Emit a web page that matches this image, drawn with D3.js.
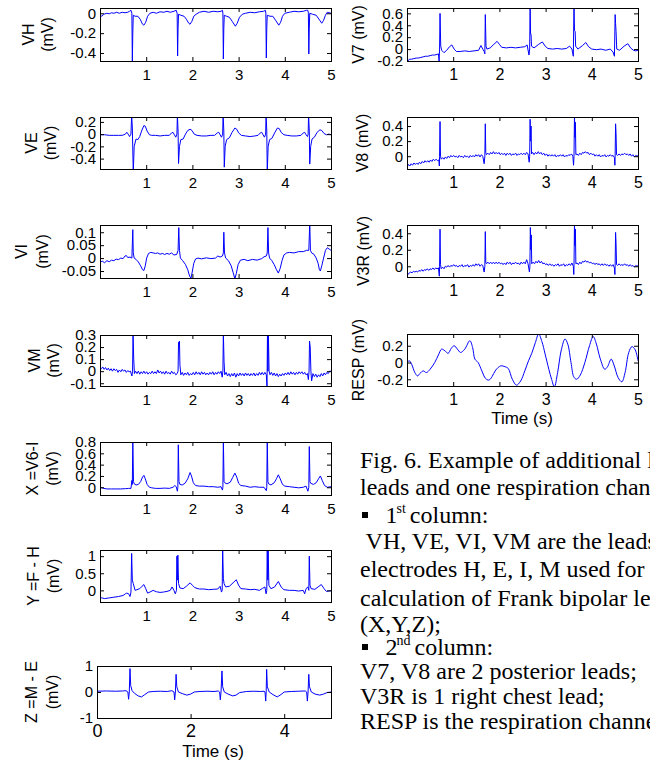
<!DOCTYPE html>
<html>
<head>
<meta charset="utf-8">
<script src="https://cdn.jsdelivr.net/npm/d3@7"></script>
<style>
body { margin: 0; background: #fff; }
svg { display: block; }
.tick text { font-family: Arial, "Liberation Sans", sans-serif; fill: #000; }
.ylab, .xlab { font-family: Arial, "Liberation Sans", sans-serif; fill: #000; }
.caption { font-family: "Times New Roman", "Liberation Serif", serif; fill: #000; }
</style>
</head>
<body>
<svg id="fig" width="650" height="764"></svg>
<script>
// ---- traces: [time (s), mV] ----
var VH = [[0,-0.02],[0.04,-0.03],[0.08,-0.01],[0.15,0],[0.2,-0.005],[0.25,0.005],[0.3,0],[0.36,0.01],[0.42,0],[0.48,0.01],[0.54,0.005],[0.6,0.01],[0.64,0.02],[0.67,0.03],[0.69,0],[0.7,-0.5],[0.71,-0.2],[0.72,-0.02],[0.76,-0.03],[0.82,-0.03],[0.87,-0.06],[0.92,-0.11],[0.95,-0.12],[0.99,-0.09],[1.03,-0.03],[1.08,0],[1.15,0.01],[1.22,0],[1.3,0.015],[1.38,0.01],[1.45,0.02],[1.52,0.01],[1.6,0.02],[1.65,0.03],[1.67,0],[1.68,-0.43],[1.69,-0.15],[1.7,-0.01],[1.75,-0.02],[1.82,-0.03],[1.87,-0.06],[1.92,-0.1],[1.95,-0.11],[1.99,-0.08],[2.03,-0.03],[2.08,-0.01],[2.15,0.01],[2.25,0.02],[2.35,0.01],[2.45,0.02],[2.55,0.015],[2.62,0.02],[2.65,0.03],[2.66,0],[2.67,-0.46],[2.68,-0.15],[2.69,-0.02],[2.74,-0.03],[2.8,-0.04],[2.86,-0.08],[2.93,-0.13],[2.97,-0.1],[3.02,-0.04],[3.08,-0.01],[3.15,0],[3.25,0.01],[3.35,0.005],[3.45,0.015],[3.54,0.02],[3.58,0.03],[3.59,0],[3.6,-0.45],[3.61,-0.15],[3.62,-0.02],[3.68,-0.03],[3.74,-0.03],[3.8,-0.07],[3.87,-0.12],[3.91,-0.09],[3.95,-0.03],[4,0],[4.1,0.01],[4.2,0.02],[4.3,0.015],[4.4,0.02],[4.47,0.03],[4.5,0.03],[4.51,0],[4.52,-0.41],[4.53,-0.15],[4.54,0],[4.6,-0.01],[4.68,-0.02],[4.74,-0.06],[4.8,-0.1],[4.84,-0.07],[4.88,-0.02],[4.92,0.01],[5,0]];

var VE = [[0,-0.01],[0.1,-0.01],[0.2,-0.02],[0.3,-0.02],[0.4,-0.02],[0.48,-0.02],[0.55,0],[0.58,0.03],[0.61,0],[0.64,-0.04],[0.67,0],[0.685,0.32],[0.7,0.1],[0.72,-0.62],[0.74,-0.2],[0.78,-0.08],[0.82,-0.09],[0.86,-0.04],[0.9,0.05],[0.95,0.14],[0.98,0.13],[1.02,0.05],[1.07,-0.01],[1.12,-0.02],[1.2,-0.02],[1.3,-0.03],[1.4,-0.02],[1.5,-0.02],[1.55,0.02],[1.58,0.03],[1.61,-0.01],[1.64,-0.05],[1.665,0],[1.675,0.32],[1.69,0.05],[1.7,-0.48],[1.72,-0.2],[1.75,-0.09],[1.8,-0.08],[1.85,0],[1.9,0.06],[1.95,0.08],[1.99,0.06],[2.04,0],[2.1,-0.02],[2.2,-0.03],[2.3,-0.03],[2.4,-0.02],[2.48,-0.02],[2.54,0.02],[2.57,0.03],[2.6,-0.01],[2.63,-0.05],[2.655,0],[2.665,0.32],[2.68,0.05],[2.69,-0.54],[2.71,-0.2],[2.74,-0.09],[2.8,-0.06],[2.86,0.03],[2.92,0.1],[2.96,0.08],[3,0.02],[3.06,-0.02],[3.15,-0.03],[3.25,-0.04],[3.35,-0.03],[3.42,-0.02],[3.47,0.02],[3.5,0.03],[3.53,-0.01],[3.56,-0.05],[3.585,0],[3.595,0.32],[3.61,0.05],[3.62,-0.62],[3.64,-0.2],[3.67,-0.09],[3.72,-0.07],[3.78,0.02],[3.84,0.1],[3.88,0.09],[3.92,0.03],[3.98,-0.01],[4.05,-0.02],[4.15,-0.03],[4.25,-0.03],[4.35,-0.02],[4.4,0.02],[4.43,0.03],[4.46,-0.01],[4.49,-0.04],[4.505,0],[4.515,0.32],[4.53,0.05],[4.54,-0.49],[4.56,-0.2],[4.59,-0.08],[4.64,-0.05],[4.7,0.03],[4.76,0.07],[4.8,0.06],[4.85,0.01],[4.9,-0.01],[4.95,0],[5,-0.01]];

var VI = [[0,-0.015],[0.05,-0.012],[0.1,-0.018],[0.15,-0.01],[0.2,-0.014],[0.25,-0.008],[0.3,-0.01],[0.35,-0.004],[0.4,-0.006],[0.45,0],[0.5,-0.002],[0.54,0.008],[0.57,0.01],[0.6,0.002],[0.65,0.004],[0.69,0],[0.71,0.11],[0.72,0.02],[0.74,0],[0.78,-0.005],[0.83,-0.015],[0.88,-0.03],[0.92,-0.045],[0.95,-0.048],[0.98,-0.03],[1.01,0],[1.05,0.018],[1.1,0.022],[1.15,0.02],[1.2,0.018],[1.25,0.02],[1.3,0.015],[1.35,0.018],[1.4,0.014],[1.45,0.018],[1.5,0.015],[1.55,0.02],[1.6,0.012],[1.66,0.014],[1.69,0.03],[1.705,0.118],[1.72,0.03],[1.74,0],[1.79,-0.01],[1.85,-0.025],[1.9,-0.045],[1.94,-0.07],[1.97,-0.078],[2,-0.05],[2.03,-0.02],[2.07,-0.003],[2.12,0],[2.2,-0.003],[2.3,0.001],[2.4,-0.002],[2.5,0],[2.55,0.008],[2.6,0.004],[2.65,0.008],[2.67,0.02],[2.68,0.1],[2.695,0.02],[2.72,0],[2.78,-0.01],[2.84,-0.03],[2.88,-0.055],[2.92,-0.08],[2.95,-0.06],[2.99,-0.025],[3.04,-0.008],[3.12,-0.005],[3.2,-0.01],[3.3,-0.005],[3.4,-0.008],[3.5,-0.002],[3.55,0.005],[3.6,0.008],[3.62,0.02],[3.635,0.118],[3.65,0.02],[3.67,0],[3.72,-0.01],[3.77,-0.025],[3.82,-0.045],[3.86,-0.058],[3.9,-0.04],[3.94,-0.01],[3.98,0.012],[4.04,0.02],[4.1,0.022],[4.2,0.02],[4.3,0.025],[4.4,0.025],[4.47,0.03],[4.52,0.03],[4.54,0.135],[4.555,0.03],[4.58,0.02],[4.63,0.015],[4.68,0],[4.72,-0.02],[4.75,-0.045],[4.77,-0.05],[4.8,-0.03],[4.84,0],[4.88,0.03],[4.92,0.04],[4.96,0.035],[5,0.03]];

var VM = [[0,0.03],[0.03,0.02],[0.06,0.035],[0.09,0.015],[0.12,0.03],[0.15,0.01],[0.18,0.025],[0.21,0.005],[0.24,0.02],[0.27,0],[0.3,0.02],[0.33,0.005],[0.36,0.015],[0.39,-0.01],[0.42,0.01],[0.45,-0.005],[0.48,0.015],[0.51,0],[0.54,0.01],[0.57,-0.01],[0.6,0.005],[0.63,-0.005],[0.66,0],[0.69,-0.04],[0.705,0],[0.715,0.32],[0.73,0.1],[0.745,-0.02],[0.77,0],[0.8,-0.02],[0.83,0],[0.86,-0.025],[0.89,-0.005],[0.92,-0.02],[0.95,0],[0.98,-0.02],[1.01,-0.005],[1.04,-0.025],[1.07,-0.01],[1.1,-0.02],[1.13,0],[1.16,-0.02],[1.19,-0.005],[1.22,-0.02],[1.25,0.01],[1.28,-0.015],[1.31,0],[1.34,-0.02],[1.37,-0.005],[1.4,-0.025],[1.43,0],[1.46,-0.02],[1.49,-0.01],[1.52,-0.025],[1.55,0],[1.58,-0.02],[1.61,-0.01],[1.64,-0.03],[1.67,-0.02],[1.69,0],[1.7,0.24],[1.71,0.22],[1.72,0.25],[1.73,0.05],[1.75,-0.03],[1.78,-0.01],[1.81,-0.035],[1.84,-0.015],[1.87,-0.03],[1.9,-0.01],[1.93,-0.035],[1.96,-0.02],[1.99,-0.03],[2.02,-0.01],[2.05,-0.03],[2.08,-0.005],[2.11,-0.025],[2.14,-0.01],[2.17,-0.03],[2.2,-0.005],[2.23,-0.025],[2.26,-0.01],[2.29,-0.03],[2.32,-0.015],[2.35,-0.03],[2.38,-0.01],[2.41,-0.025],[2.44,-0.005],[2.47,-0.03],[2.5,-0.01],[2.53,-0.025],[2.56,-0.005],[2.59,-0.02],[2.62,0],[2.645,-0.05],[2.66,0],[2.67,0.32],[2.685,0.08],[2.7,-0.03],[2.73,-0.01],[2.76,-0.04],[2.79,-0.02],[2.82,-0.045],[2.85,-0.02],[2.88,-0.04],[2.91,-0.015],[2.94,-0.05],[2.97,-0.02],[3,-0.04],[3.03,-0.015],[3.06,-0.035],[3.09,-0.02],[3.12,-0.04],[3.15,-0.015],[3.18,-0.035],[3.21,-0.02],[3.24,-0.04],[3.27,-0.02],[3.3,-0.035],[3.33,-0.015],[3.36,-0.04],[3.39,-0.02],[3.42,-0.035],[3.45,-0.01],[3.48,-0.03],[3.51,-0.01],[3.54,-0.03],[3.57,-0.01],[3.6,-0.03],[3.615,-0.13],[3.625,0.32],[3.635,0],[3.645,0.3],[3.66,0],[3.68,-0.03],[3.71,-0.01],[3.74,-0.035],[3.77,-0.015],[3.8,-0.04],[3.83,-0.02],[3.86,-0.045],[3.89,-0.025],[3.92,-0.04],[3.95,-0.02],[3.98,-0.035],[4.01,-0.015],[4.04,-0.03],[4.07,-0.01],[4.1,-0.03],[4.13,-0.005],[4.16,-0.025],[4.19,-0.01],[4.22,-0.03],[4.25,-0.01],[4.28,-0.025],[4.31,-0.005],[4.34,-0.02],[4.37,-0.005],[4.4,-0.025],[4.43,-0.01],[4.46,-0.03],[4.49,-0.02],[4.51,-0.07],[4.525,0],[4.535,0.25],[4.55,0.2],[4.565,0],[4.58,-0.08],[4.61,-0.02],[4.64,-0.045],[4.67,-0.025],[4.7,-0.05],[4.73,-0.03],[4.76,-0.045],[4.79,-0.02],[4.82,-0.04],[4.85,-0.015],[4.88,-0.03],[4.91,-0.01],[4.94,-0.02],[4.97,0],[5,0]];

var XL = [[0,0],[0.04,-0.01],[0.08,-0.02],[0.15,-0.03],[0.25,-0.03],[0.35,-0.03],[0.45,-0.03],[0.55,-0.025],[0.62,-0.02],[0.67,-0.02],[0.69,0.12],[0.7,0.05],[0.71,0.85],[0.725,0.1],[0.74,0.06],[0.78,0.04],[0.83,0.05],[0.88,0.1],[0.92,0.18],[0.95,0.21],[0.98,0.15],[1.02,0.05],[1.07,0],[1.12,-0.01],[1.2,-0.02],[1.3,-0.02],[1.4,-0.015],[1.5,-0.02],[1.58,0],[1.62,0.03],[1.65,0.01],[1.675,-0.07],[1.685,0],[1.695,0.75],[1.71,0.1],[1.73,0.05],[1.78,0.04],[1.84,0.07],[1.9,0.15],[1.95,0.26],[1.98,0.2],[2.02,0.08],[2.07,0.03],[2.15,0.02],[2.25,0.02],[2.35,0.01],[2.45,0.01],[2.55,0],[2.62,0.01],[2.65,-0.05],[2.66,0],[2.67,0.85],[2.685,0.1],[2.7,0.08],[2.75,0.06],[2.82,0.09],[2.87,0.17],[2.92,0.25],[2.96,0.18],[3,0.07],[3.05,0.03],[3.15,0.02],[3.25,0],[3.35,0.01],[3.45,0],[3.55,0],[3.6,-0.06],[3.61,0],[3.62,0.85],[3.635,0.1],[3.65,0.06],[3.7,0.04],[3.77,0.08],[3.82,0.15],[3.86,0.22],[3.9,0.15],[3.95,0.05],[4,0.02],[4.1,0.01],[4.2,0],[4.3,-0.01],[4.4,0],[4.46,0.02],[4.5,-0.07],[4.52,0],[4.53,0.72],[4.545,0.1],[4.56,0.07],[4.62,0.05],[4.68,0.08],[4.73,0.15],[4.77,0.2],[4.81,0.12],[4.86,0.03],[4.92,0],[5,0.01]];

var YL = [[0,-0.2],[0.04,-0.22],[0.1,-0.24],[0.2,-0.22],[0.3,-0.2],[0.4,-0.18],[0.5,-0.15],[0.55,-0.1],[0.58,-0.08],[0.62,-0.1],[0.65,-0.18],[0.67,-0.05],[0.685,1.08],[0.7,0.3],[0.72,0.2],[0.76,0],[0.8,0.02],[0.86,0.05],[0.91,0.12],[0.95,0.17],[0.99,0.05],[1.03,-0.08],[1.08,-0.05],[1.15,0],[1.22,-0.04],[1.3,-0.06],[1.37,-0.05],[1.45,-0.03],[1.52,0],[1.56,0.1],[1.6,0],[1.63,-0.1],[1.655,0],[1.665,1],[1.675,0.3],[1.685,1.03],[1.7,0.2],[1.73,0.07],[1.8,0.05],[1.87,0.12],[1.95,0.22],[2,0.15],[2.05,0.08],[2.15,0.04],[2.25,0.04],[2.35,0.02],[2.45,0.03],[2.55,0.04],[2.6,0.12],[2.63,-0.05],[2.645,0],[2.655,1.25],[2.67,0.35],[2.685,0.2],[2.72,0.1],[2.8,0.12],[2.88,0.22],[2.95,0.31],[3,0.15],[3.05,0.05],[3.15,0.04],[3.25,0.02],[3.35,0.03],[3.45,0],[3.52,0.06],[3.57,0.1],[3.595,-0.1],[3.61,0],[3.62,1.25],[3.63,0.3],[3.64,1.2],[3.655,0.15],[3.7,0.05],[3.78,0.1],[3.86,0.26],[3.92,0.1],[3.98,0.02],[4.1,0],[4.2,0],[4.3,-0.02],[4.4,0],[4.43,-0.1],[4.46,0.05],[4.5,0.1],[4.52,0],[4.53,1],[4.545,0.15],[4.57,0.05],[4.65,0.03],[4.72,0.1],[4.79,0.17],[4.85,0.05],[4.9,-0.03],[4.95,-0.02],[5,-0.01]];

var ZL = [[0,0.03],[0.2,0.04],[0.4,0.03],[0.55,0.04],[0.62,0.05],[0.66,0],[0.675,-0.28],[0.69,0],[0.705,0.9],[0.72,0.25],[0.75,0.05],[0.8,-0.05],[0.88,-0.15],[0.95,-0.19],[1.02,-0.1],[1.1,0],[1.2,0.02],[1.35,0.03],[1.5,0.02],[1.6,0.05],[1.645,0],[1.66,-0.3],[1.675,0],[1.69,0.68],[1.705,0.2],[1.74,0],[1.82,-0.06],[1.92,-0.12],[2,-0.08],[2.08,0],[2.2,0.02],[2.35,0.03],[2.5,0.02],[2.59,0.04],[2.62,0],[2.635,-0.3],[2.65,0],[2.67,0.81],[2.685,0.2],[2.72,0],[2.8,-0.08],[2.9,-0.15],[2.97,-0.12],[3.05,-0.02],[3.2,0.02],[3.35,0.03],[3.5,0.02],[3.57,0.03],[3.59,0],[3.605,-0.35],[3.615,0],[3.625,0.87],[3.64,0.2],[3.68,0],[3.76,-0.1],[3.85,-0.19],[3.93,-0.1],[4,0],[4.15,0.02],[4.3,0.03],[4.45,0.04],[4.48,0],[4.495,-0.35],[4.51,0],[4.525,0.68],[4.54,0.2],[4.58,0],[4.66,-0.08],[4.76,-0.12],[4.84,-0.08],[4.92,-0.02],[5,0]];

var V7 = [[0,-0.25],[0.02,-0.2],[0.05,-0.17],[0.1,-0.17],[0.15,-0.16],[0.2,-0.15],[0.25,-0.15],[0.3,-0.14],[0.35,-0.13],[0.4,-0.12],[0.45,-0.12],[0.5,-0.11],[0.55,-0.1],[0.6,-0.1],[0.65,-0.09],[0.68,-0.08],[0.695,-0.2],[0.705,0],[0.715,0.6],[0.73,0.05],[0.75,-0.02],[0.8,-0.06],[0.86,-0.02],[0.92,0.04],[0.97,0.07],[1.02,0],[1.07,-0.04],[1.15,-0.04],[1.25,-0.03],[1.35,-0.04],[1.45,-0.03],[1.55,-0.02],[1.6,0.06],[1.64,0],[1.67,-0.04],[1.685,-0.08],[1.695,0.58],[1.71,0.05],[1.73,0],[1.8,0.02],[1.88,0.08],[1.95,0.13],[2,0.08],[2.05,0.03],[2.15,0.02],[2.25,0.03],[2.35,0.02],[2.45,0.03],[2.55,0.04],[2.6,0.07],[2.64,-0.1],[2.655,0],[2.665,0.75],[2.675,0.25],[2.685,0.25],[2.695,0.05],[2.75,0.02],[2.85,0.08],[2.93,0.12],[2.99,0.05],[3.05,0.01],[3.15,0],[3.25,0.01],[3.35,0],[3.45,0.01],[3.52,0.05],[3.57,0],[3.6,-0.12],[3.615,0.75],[3.625,0.31],[3.64,0.3],[3.65,0.05],[3.7,0],[3.8,0.06],[3.87,0.11],[3.93,0.04],[4,0],[4.1,-0.01],[4.2,0],[4.3,-0.02],[4.4,0],[4.46,-0.05],[4.49,-0.12],[4.505,0.58],[4.515,0.43],[4.525,0.3],[4.54,0],[4.6,-0.02],[4.7,0.05],[4.78,0.09],[4.84,0.02],[4.9,-0.02],[4.95,-0.03],[5,-0.02]];

var V8 = [[0,-0.15],[0.03,-0.11],[0.06,-0.13],[0.09,-0.1],[0.12,-0.12],[0.15,-0.09],[0.18,-0.11],[0.21,-0.09],[0.24,-0.11],[0.27,-0.08],[0.3,-0.1],[0.33,-0.07],[0.36,-0.09],[0.39,-0.06],[0.42,-0.08],[0.45,-0.06],[0.48,-0.08],[0.51,-0.05],[0.54,-0.07],[0.57,-0.04],[0.6,-0.06],[0.63,-0.04],[0.66,-0.06],[0.69,-0.05],[0.7,-0.13],[0.705,0],[0.715,0.46],[0.725,0],[0.74,-0.04],[0.77,-0.02],[0.8,-0.04],[0.83,-0.01],[0.86,-0.03],[0.89,0],[0.92,-0.02],[0.95,0.01],[0.98,-0.01],[1.01,0.01],[1.04,-0.01],[1.07,0],[1.1,-0.02],[1.13,0.01],[1.16,-0.01],[1.19,0],[1.22,-0.02],[1.25,0.01],[1.28,-0.01],[1.31,0],[1.34,-0.02],[1.37,0.01],[1.4,-0.01],[1.43,0.01],[1.46,-0.01],[1.49,0.02],[1.52,0],[1.55,0.02],[1.58,-0.01],[1.61,0.02],[1.64,0],[1.67,-0.1],[1.685,0],[1.695,0.43],[1.705,0.05],[1.72,0.02],[1.75,0.04],[1.78,0.02],[1.81,0.05],[1.84,0.03],[1.87,0.06],[1.9,0.03],[1.93,0.05],[1.96,0.03],[1.99,0.05],[2.02,0.02],[2.05,0.04],[2.08,0.02],[2.11,0.04],[2.14,0.01],[2.17,0.04],[2.2,0.02],[2.23,0.04],[2.26,0.01],[2.29,0.03],[2.32,0.02],[2.35,0.04],[2.38,0.01],[2.41,0.03],[2.44,0.02],[2.47,0.04],[2.5,0.02],[2.53,0.04],[2.56,0.02],[2.59,0.05],[2.62,0.03],[2.645,-0.08],[2.655,0],[2.665,0.49],[2.675,0.2],[2.685,0.4],[2.695,0.03],[2.72,0.05],[2.75,0.02],[2.78,0.05],[2.81,0.03],[2.84,0.06],[2.87,0.03],[2.9,0.05],[2.93,0.02],[2.96,0.04],[2.99,0.01],[3.02,0.03],[3.05,0],[3.08,0.02],[3.11,0],[3.14,0.02],[3.17,0],[3.2,0.02],[3.23,-0.01],[3.26,0.01],[3.29,0],[3.32,0.02],[3.35,0],[3.38,0.02],[3.41,-0.01],[3.44,0.01],[3.47,0],[3.5,0.02],[3.53,0.01],[3.56,0.03],[3.59,0],[3.605,-0.12],[3.615,0],[3.625,0.55],[3.635,0.25],[3.645,0.45],[3.655,0.02],[3.68,0.03],[3.71,0.01],[3.74,0.04],[3.77,0.02],[3.8,0.05],[3.83,0.04],[3.86,0.06],[3.89,0.04],[3.92,0.05],[3.95,0.02],[3.98,0.04],[4.01,0.02],[4.04,0.03],[4.07,0],[4.1,0.02],[4.13,0],[4.16,0.02],[4.19,-0.01],[4.22,0.01],[4.25,0],[4.28,0.02],[4.31,-0.01],[4.34,0.01],[4.37,0],[4.4,0.02],[4.43,0],[4.46,0.01],[4.49,-0.02],[4.5,-0.12],[4.505,0],[4.515,0.43],[4.525,0.3],[4.535,0.02],[4.56,0.01],[4.59,0.03],[4.62,0.01],[4.65,0.03],[4.68,0.02],[4.71,0.04],[4.74,0.02],[4.77,0.03],[4.8,0.01],[4.83,0.03],[4.86,0],[4.89,0.02],[4.92,-0.01],[4.95,0.01],[4.98,0],[5,0.01]];

var V3R = [[0,-0.13],[0.02,-0.1],[0.05,-0.08],[0.08,-0.07],[0.11,-0.08],[0.14,-0.06],[0.17,-0.07],[0.2,-0.06],[0.23,-0.07],[0.26,-0.05],[0.29,-0.06],[0.32,-0.04],[0.35,-0.06],[0.38,-0.04],[0.41,-0.05],[0.44,-0.03],[0.47,-0.05],[0.5,-0.03],[0.53,-0.04],[0.56,-0.02],[0.59,-0.04],[0.62,-0.02],[0.65,-0.03],[0.68,-0.02],[0.7,-0.12],[0.705,0],[0.715,0.45],[0.725,0.02],[0.74,-0.03],[0.77,-0.01],[0.8,-0.03],[0.83,0],[0.86,-0.01],[0.89,0.01],[0.92,-0.01],[0.95,0.01],[0.98,0],[1.01,0.02],[1.04,0],[1.07,0.01],[1.1,-0.01],[1.13,0.01],[1.16,0],[1.19,0.02],[1.22,-0.01],[1.25,0.01],[1.28,0],[1.31,0.02],[1.34,-0.01],[1.37,0.01],[1.4,0],[1.43,0.02],[1.46,0],[1.49,0.03],[1.52,0.01],[1.55,0.03],[1.58,0],[1.61,0.02],[1.64,0.01],[1.67,-0.07],[1.685,0],[1.695,0.42],[1.705,0.05],[1.72,0.03],[1.75,0.05],[1.78,0.03],[1.81,0.05],[1.84,0.03],[1.87,0.05],[1.9,0.03],[1.93,0.05],[1.96,0.03],[1.99,0.05],[2.02,0.03],[2.05,0.04],[2.08,0.02],[2.11,0.04],[2.14,0.02],[2.17,0.05],[2.2,0.03],[2.23,0.05],[2.26,0.02],[2.29,0.04],[2.32,0.03],[2.35,0.05],[2.38,0.03],[2.41,0.04],[2.44,0.02],[2.47,0.05],[2.5,0.03],[2.53,0.05],[2.56,0.03],[2.59,0.08],[2.62,0.03],[2.65,-0.07],[2.66,0],[2.67,0.47],[2.68,0.2],[2.69,0.38],[2.7,0.03],[2.73,0.05],[2.76,0.03],[2.79,0.06],[2.82,0.04],[2.85,0.07],[2.88,0.04],[2.91,0.06],[2.94,0.03],[2.97,0.04],[3,0.02],[3.03,0.03],[3.06,0.01],[3.09,0.03],[3.12,0.01],[3.15,0.02],[3.18,0],[3.21,0.02],[3.24,0.01],[3.27,0.03],[3.3,0],[3.33,0.02],[3.36,0.01],[3.39,0.03],[3.42,0],[3.45,0.02],[3.48,0.01],[3.51,0.03],[3.54,0.01],[3.57,0.04],[3.6,0],[3.61,-0.1],[3.615,0],[3.625,0.52],[3.635,0.25],[3.645,0.45],[3.655,0.03],[3.68,0.04],[3.71,0.02],[3.74,0.05],[3.77,0.03],[3.8,0.06],[3.83,0.05],[3.86,0.07],[3.89,0.05],[3.92,0.06],[3.95,0.04],[3.98,0.05],[4.01,0.03],[4.04,0.04],[4.07,0.02],[4.1,0.04],[4.13,0.02],[4.16,0.03],[4.19,0.01],[4.22,0.03],[4.25,0.01],[4.28,0.03],[4.31,0.01],[4.34,0.02],[4.37,0],[4.4,0.02],[4.43,0],[4.46,0.02],[4.49,-0.02],[4.5,-0.1],[4.505,0],[4.515,0.41],[4.525,0.28],[4.535,0.02],[4.56,0.01],[4.59,0.03],[4.62,0.01],[4.65,0.02],[4.68,0.01],[4.71,0.03],[4.74,0.01],[4.77,0.02],[4.8,0],[4.83,0.02],[4.86,0],[4.89,0.01],[4.92,-0.01],[4.95,0.01],[4.98,0],[5,0.01]];

var RESP = [[0,0],[0.05,0.02],[0.1,-0.02],[0.17,-0.12],[0.23,-0.16],[0.28,-0.13],[0.35,-0.1],[0.42,-0.12],[0.5,-0.08],[0.6,0],[0.68,0.09],[0.75,0.16],[0.82,0.14],[0.89,0.11],[0.96,0.17],[1.02,0.2],[1.09,0.16],[1.16,0.12],[1.25,0.16],[1.36,0.26],[1.42,0.18],[1.47,0.04],[1.54,0],[1.62,-0.1],[1.7,-0.19],[1.77,-0.21],[1.84,-0.17],[1.92,-0.09],[2.03,-0.04],[2.12,-0.05],[2.19,-0.07],[2.28,-0.2],[2.37,-0.27],[2.46,-0.22],[2.55,-0.1],[2.63,0.02],[2.7,0.11],[2.78,0.24],[2.85,0.34],[2.92,0.25],[2.99,0.1],[3.07,-0.08],[3.13,-0.2],[3.19,-0.29],[3.26,-0.12],[3.34,0.15],[3.42,0.28],[3.48,0.22],[3.55,0],[3.61,-0.17],[3.67,-0.2],[3.75,-0.15],[3.85,0],[3.95,0.2],[4.03,0.31],[4.1,0.22],[4.18,0.05],[4.28,-0.08],[4.34,-0.05],[4.42,0.04],[4.48,-0.03],[4.57,-0.18],[4.65,-0.23],[4.72,-0.12],[4.8,0.12],[4.87,0.19],[4.94,0.15],[5,0.02]];

// ---- axes values ----
var leftTraces = [VH, VE, VI, VM, XL, YL, ZL];
var leftLabels = [["VH", "(mV)"], ["VE", "(mV)"], ["VI", "(mV)"], ["VM", "(mV)"], ["X =V6-I", "(mV)"], ["Y =F - H", "(mV)"], ["Z =M - E", "(mV)"]];
var leftDomains = [[-0.48, 0.053], [-0.57, 0.28], [-0.077, 0.128], [-0.123, 0.3], [-0.137, 0.8], [-0.34, 1.18], [-1, 1]];
var leftYTicks = [[-0.4, -0.2, 0], [-0.4, -0.2, 0, 0.2], [-0.05, 0, 0.05, 0.1], [-0.1, 0, 0.1, 0.2, 0.3], [0, 0.2, 0.4, 0.6, 0.8], [0, 0.5, 1], [-1, 0, 1]];

var rightTraces = [V7, V8, V3R, RESP];
var rightLabels = ["V7 (mV)", "V8 (mV)", "V3R (mV)", "RESP (mV)"];
var rightDomains = [[-0.2, 0.69], [-0.17, 0.52], [-0.13, 0.5], [-0.28, 0.34]];
var rightYTicks = [[-0.2, 0, 0.2, 0.4, 0.6], [0, 0.2, 0.4], [0, 0.2, 0.4], [-0.2, 0, 0.2]];

var timeDomain = [0, 5];
var timeTicks = [1, 2, 3, 4, 5];
var timeTicksZ = [0, 2, 4];

var captionLines = [
    { parts: [["Fig. 6. Example of additional leads"]] },
    { parts: [["leads and one respiration channel"]] },
    { bullet: true, parts: [["1"], ["st", "sup"], [" column:"]] },
    { parts: [[" VH, VE, VI, VM are the leads of"]] },
    { parts: [["electrodes H, E, I, M used for the"]] },
    { parts: [["calculation of Frank bipolar leads"]] },
    { parts: [["(X,Y,Z);"]] },
    { bullet: true, parts: [["2"], ["nd", "sup"], [" column:"]] },
    { parts: [["V7, V8 are 2 posterior leads;"]] },
    { parts: [["V3R is 1 right chest lead;"]] },
    { parts: [["RESP is the respiration channel."]] }
];

// ---- layout ----
var leftBoxes = [[100, 8, 331, 61], [100, 117, 331, 169], [100, 225, 331, 278], [100, 335, 331, 386], [100, 442, 331, 495], [100, 550, 331, 602], [97, 666, 331, 718]];
var leftLabelX = [[28, 47.5], [31, 50], [21, 42.5], [34, 53], [32.5, 52.5], [33, 53], [31, 52.5]];
var rightBoxes = [[407, 8, 638, 61], [407, 117, 638, 169], [407, 225, 638, 277], [407, 334, 638, 386]];
var rightLabelX = [358, 362, 363.5, 358];
var captionY = [468, 495, 523, 549, 577, 606, 632, 655, 679, 704, 729];

var svg = d3.select("#fig");
var defs = svg.append("defs");
var panelCount = 0;

function drawPanel(trace, box, domain, yTicks, xTicks, opts) {
    var id = "clip" + (panelCount++);
    var x = d3.scaleLinear().domain(timeDomain).range([box[0], box[2]]);
    var y = d3.scaleLinear().domain(domain).range([box[3], box[1]]);

    defs.append("clipPath").attr("id", id)
        .append("rect")
        .attr("x", box[0]).attr("y", box[1])
        .attr("width", box[2] - box[0]).attr("height", box[3] - box[1]);

    var g = svg.append("g");

    var line = d3.line()
        .x(function (d) { return x(d[0]); })
        .y(function (d) { return y(d[1]); });
    if (opts.smooth) line.curve(d3.curveCatmullRom);

    g.append("path")
        .datum(trace)
        .attr("clip-path", "url(#" + id + ")")
        .attr("d", line)
        .style("fill", "none")
        .style("stroke", "#0000ff")
        .style("stroke-width", 1);

    var fmt = function (d) { return String(d); };

    var bottom = g.append("g")
        .attr("transform", "translate(0," + box[3] + ")")
        .call(d3.axisBottom(x).tickValues(xTicks).tickFormat(fmt)
            .tickSizeInner(-4).tickSizeOuter(0).tickPadding(opts.xPad));
    var top = g.append("g")
        .attr("transform", "translate(0," + box[1] + ")")
        .call(d3.axisTop(x).tickValues(xTicks).tickFormat("")
            .tickSizeInner(-4).tickSizeOuter(0));
    var left = g.append("g")
        .attr("transform", "translate(" + box[0] + ",0)")
        .call(d3.axisLeft(y).tickValues(yTicks).tickFormat(fmt)
            .tickSizeInner(-4).tickSizeOuter(0).tickPadding(4));
    var right = g.append("g")
        .attr("transform", "translate(" + box[2] + ",0)")
        .call(d3.axisRight(y).tickValues(yTicks).tickFormat("")
            .tickSizeInner(-4).tickSizeOuter(0));

    [bottom, top, left, right].forEach(function (a) {
        a.select(".domain").remove();
        a.selectAll("line").style("stroke", "#000");
        a.attr("font-family", null).attr("font-size", null);
    });
    bottom.selectAll("text").style("font-size", opts.xFont + "px");
    left.selectAll("text").style("font-size", "15px");

    g.append("rect")
        .attr("x", box[0] + 0.5).attr("y", box[1] + 0.5)
        .attr("width", box[2] - box[0]).attr("height", box[3] - box[1])
        .style("fill", "none")
        .style("stroke", "#000")
        .style("stroke-width", 1);

    return g;
}

function yLabel(text, cx, cy) {
    svg.append("text")
        .attr("class", "ylab")
        .attr("transform", "translate(" + cx + "," + cy + ") rotate(-90)")
        .attr("text-anchor", "middle")
        .attr("dy", "0.36em")
        .style("font-size", "16px")
        .text(text);
}

leftTraces.forEach(function (trace, i) {
    var b = leftBoxes[i];
    var isZ = i == leftTraces.length - 1;
    drawPanel(trace, b, leftDomains[i], leftYTicks[i], isZ ? timeTicksZ : timeTicks,
        { xFont: isZ ? 18 : 15, xPad: isZ ? 6 : 8 });
    var cy = (b[1] + b[3]) / 2;
    yLabel(leftLabels[i][0], leftLabelX[i][0], cy);
    yLabel(leftLabels[i][1], leftLabelX[i][1], cy);
});

rightTraces.forEach(function (trace, i) {
    var b = rightBoxes[i];
    drawPanel(trace, b, rightDomains[i], rightYTicks[i], timeTicks,
        { xFont: 16, xPad: 8, smooth: trace === RESP });
    yLabel(rightLabels[i], rightLabelX[i], (b[1] + b[3]) / 2);
});

// time axis titles
svg.append("text").attr("class", "xlab")
    .attr("x", 213).attr("y", 757).attr("text-anchor", "middle")
    .style("font-size", "17px").text("Time (s)");
svg.append("text").attr("class", "xlab")
    .attr("x", 522).attr("y", 424).attr("text-anchor", "middle")
    .style("font-size", "17px").text("Time (s)");

// caption
captionLines.forEach(function (ln, i) {
    var yb = captionY[i];
    var t = svg.append("text")
        .attr("class", "caption")
        .attr("x", ln.bullet ? 385.5 : 360)
        .attr("y", yb)
        .style("font-size", "24px")
        .attr("xml:space", "preserve")
        .style("white-space", "pre");
    ln.parts.forEach(function (p, k) {
        var s = t.append("tspan").text(p[0]);
        if (p[1] == "sup") {
            s.style("font-size", "14px").attr("dy", -10).attr("dx", -1);
        } else if (k > 0) {
            s.attr("dy", 10).attr("dx", -2);
        }
    });
    if (ln.bullet) {
        svg.append("rect")
            .attr("x", 362).attr("y", yb - 11)
            .attr("width", 6).attr("height", 6)
            .style("fill", "#000");
    }
});
</script>
</body>
</html>
